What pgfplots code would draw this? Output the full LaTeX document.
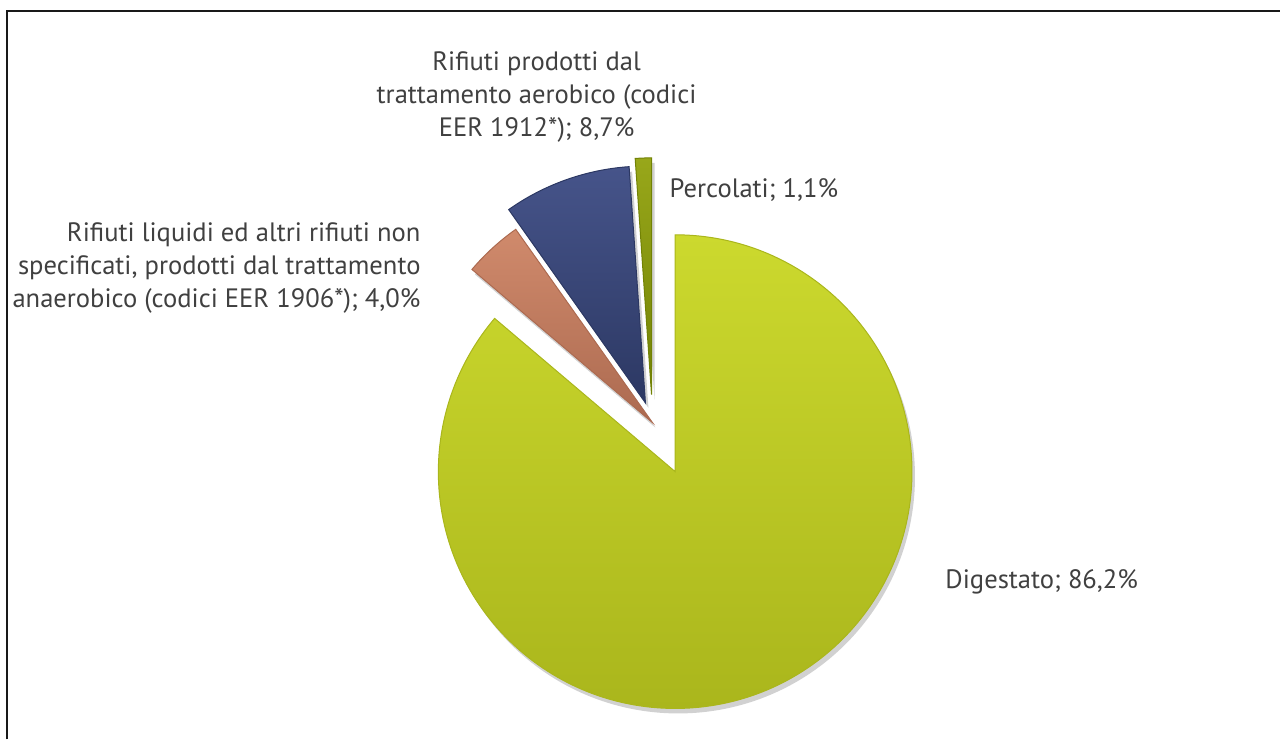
\documentclass[border=0pt]{standalone}
\usepackage{pgfplots}
\usepackage{pgfplotstable}
\pgfplotsset{compat=1.18}
\usepackage{fontspec}
\setmainfont{PT Sans}

\definecolor{digA}{HTML}{CCD92E}
\definecolor{digB}{HTML}{AAB61C}
\definecolor{liqA}{HTML}{D08A6C}
\definecolor{liqB}{HTML}{AC6A50}
\definecolor{aerA}{HTML}{46548A}
\definecolor{aerB}{HTML}{2C3863}
\definecolor{perA}{HTML}{98A71A}
\definecolor{perB}{HTML}{728205}
\definecolor{txt}{HTML}{404040}

\tikzset{lbl/.style={text=txt, inner sep=0pt, font=\fontsize{26.6bp}{33bp}\selectfont}}

% value (%), explosion (px), top colour, bottom colour  -- clockwise from 12 o'clock
\pgfplotstableread{
name      value explode ca   cb
Digestato 86.2  54      digA digB
Liquidi   4.0   0       liqA liqB
Aerobico  8.7   21      aerA aerB
Percolati 1.1   28      perA perB
}\piedata

\begin{document}
\begin{tikzpicture}
\begin{axis}[
  scale only axis, width=1281bp, height=740bp,
  xmin=0, xmax=1281, ymin=0, ymax=740,
  hide axis, clip=false,
]
\path (axis cs:0,0) rectangle (axis cs:1281,740);
\def\cx{653}\def\cy{317}\def\rad{237}
\def\cum{0}
\pgfplotsforeachungrouped \i in {0,...,3}{%
  \pgfplotstablegetelem{\i}{value}\of\piedata \let\v\pgfplotsretval
  \pgfplotstablegetelem{\i}{explode}\of\piedata \let\ex\pgfplotsretval
  \pgfplotstablegetelem{\i}{ca}\of\piedata \let\ca\pgfplotsretval
  \pgfplotstablegetelem{\i}{cb}\of\piedata \let\cb\pgfplotsretval
  \pgfmathsetmacro\sa{90-3.6*\cum}
  \pgfmathsetmacro\ea{90-3.6*(\cum+\v)}
  \pgfmathsetmacro\md{(\sa+\ea)/2}
  \pgfmathsetmacro\ox{\cx+\ex*cos(\md)}
  \pgfmathsetmacro\oy{\cy+\ex*sin(\md)}
  \pgfmathsetmacro\px{\ox+\rad*cos(\sa)}
  \pgfmathsetmacro\py{\oy+\rad*sin(\sa)}
  \edef\temp{%
    \noexpand\fill[black,opacity=0.18] (axis cs:\ox+3,\oy-5) -- (axis cs:\px+3,\py-5)
       arc[start angle=\sa, end angle=\ea, radius=\rad bp] -- cycle;
    \noexpand\path[top color=\ca, bottom color=\cb, draw=\cb, line width=1bp]
       (axis cs:\ox,\oy) -- (axis cs:\px,\py)
       arc[start angle=\sa, end angle=\ea, radius=\rad bp] -- cycle;
  }\temp
  \pgfmathsetmacro\cum{\cum+\v}%
}
% frame (top and left edges visible)
\draw[line width=2bp, black!90] (axis cs:7,0) -- (axis cs:7,729) -- (axis cs:1281,729);
% labels
\node[lbl, anchor=base] at (axis cs:537,669) {Rifiuti prodotti dal};
\node[lbl, anchor=base] at (axis cs:537,636) {trattamento aerobico (codici};
\node[lbl, anchor=base] at (axis cs:537,603) {EER 1912*); 8,7\%};
\node[lbl, anchor=base west] at (axis cs:670,542) {Percolati; 1,1\%};
\node[lbl, anchor=base east] at (axis cs:421,498) {Rifiuti liquidi ed altri rifiuti non};
\node[lbl, anchor=base east] at (axis cs:421,465) {specificati, prodotti dal trattamento};
\node[lbl, anchor=base east] at (axis cs:421,432) {anaerobico (codici EER 1906*); 4,0\%};
\node[lbl, anchor=base west] at (axis cs:946,151) {Digestato; 86,2\%};
\end{axis}
\end{tikzpicture}
\end{document}
